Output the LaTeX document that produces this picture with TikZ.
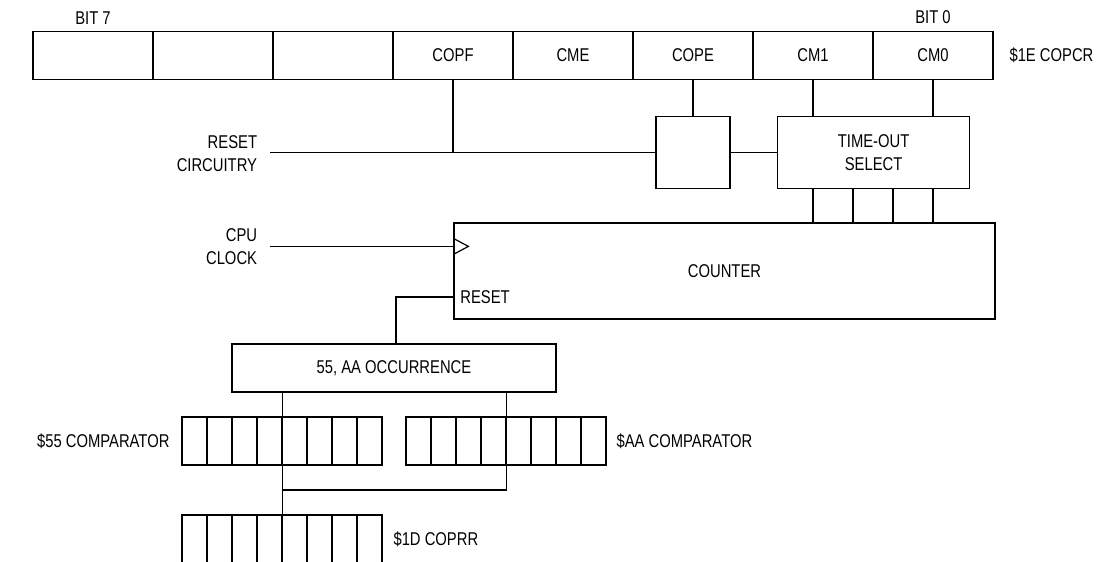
\documentclass[tikz,border=0pt]{standalone}
\usepackage{fontspec}
\setmainfont{Liberation Sans}[FakeStretch=0.8]
\usepackage{tikz}
\usetikzlibrary{positioning, calc}
\tikzstyle{regcell} = [rectangle, draw, minimum width=120pt, minimum height=47.6pt, inner sep=0pt, line width=1.2pt]
\tikzstyle{bitcell} = [rectangle, draw, minimum width=25pt, minimum height=48pt, inner sep=0pt, line width=1.2pt]
\tikzstyle{blockbox} = [rectangle, draw, inner sep=0pt, align=center, line width=1.2pt]
\tikzstyle{sidetext} = [align=right, anchor=east]

\begin{document}
\begin{tikzpicture}[x=1pt, y=-1pt, line width=1.2pt,
  every node/.style={font=\fontsize{18.5}{23}\selectfont}]
  \clip (0,0) rectangle (1112,562);

  % COPCR register
  \foreach \name [count=\i] in {{},{},{},COPF,CME,COPE,CM1,CM0}
    \node (c\i) [regcell] at (-27+120*\i, 55.5) {\name};
  \node (bit7) [above=3pt of c1] {BIT 7};
  \node (bit0) [above=3pt of c8] {BIT 0};
  \node (copcr) [right=12pt of c8] {\$1E COPCR};

  % Enable gate and time-out select
  \node (gate) [blockbox, minimum width=74pt, minimum height=72pt, below=36pt of c6] {};
  \node (tsel) [blockbox, minimum width=192pt, minimum height=72pt, below=36pt of c7.south east]
    {TIME-OUT\\SELECT};
  \node (rstc) [sidetext] at (261,154) {RESET\\CIRCUITRY};

  % Counter
  \node (counter) [blockbox, minimum width=541pt, minimum height=96pt] at (724.5,271) {COUNTER};
  \node (rstin) [anchor=west] at ($(counter.west)+(3,26)$) {RESET};
  \node (cpuclk) [sidetext] at (261,247) {CPU\\CLOCK};
  \coordinate (clk) at ($(counter.north west)+(0,24)$);

  % Occurrence and comparators
  \node (occ) [blockbox, minimum width=324pt, minimum height=48pt] at (394,368) {55, AA OCCURRENCE};
  \foreach \i in {1,...,8} {
    \node (s\i) [bitcell] at (169.5+25*\i, 441) {};
    \node (a\i) [bitcell] at (393.5+25*\i, 441) {};
    \node (r\i) [bitcell, minimum height=60pt] at (169.5+25*\i, 545) {};
  }
  \node (cmp55) [left=8pt of s1] {\$55 COMPARATOR};
  \node (cmpaa) [right=6pt of a8] {\$AA COMPARATOR};
  \node (coprr) [anchor=west] at ($(r8.north east)+(7,25)$) {\$1D COPRR};
  \coordinate (join) at ($(s4.south east)!0.5!(r4.north east)$);

  \draw (c4.south) -- (c4.south |- gate.west);
  \draw[shorten <=9pt] (rstc.east |- gate.west) -- (gate.west);
  \draw (c6.south) -- (gate.north);
  \draw (gate.east) -- (tsel.west);
  \draw (c7.south) -- (c7.south |- tsel.north);
  \draw (c8.south) -- (c8.south |- tsel.north);
  \foreach \dx in {0,40,80,120}
    \draw ($(c7.south |- tsel.south)+(\dx,0)$) -- ($(c7.south |- counter.north)+(\dx,0)$);
  \draw[shorten <=9pt] (cpuclk.east |- clk) -- (clk);
  \draw (clk) ++(0,-8) -- ++(15,8) -- ++(-15,8);
  \draw (counter.west |- rstin.west) -| ($(occ.north)+(2,0)$);
  \draw (s4.north east |- occ.south) -- (s4.north east);
  \draw (a4.north east |- occ.south) -- (a4.north east);
  \draw (s4.south east) -- (r4.north east);
  \draw (a4.south east) |- (join);
\end{tikzpicture}
\end{document}
